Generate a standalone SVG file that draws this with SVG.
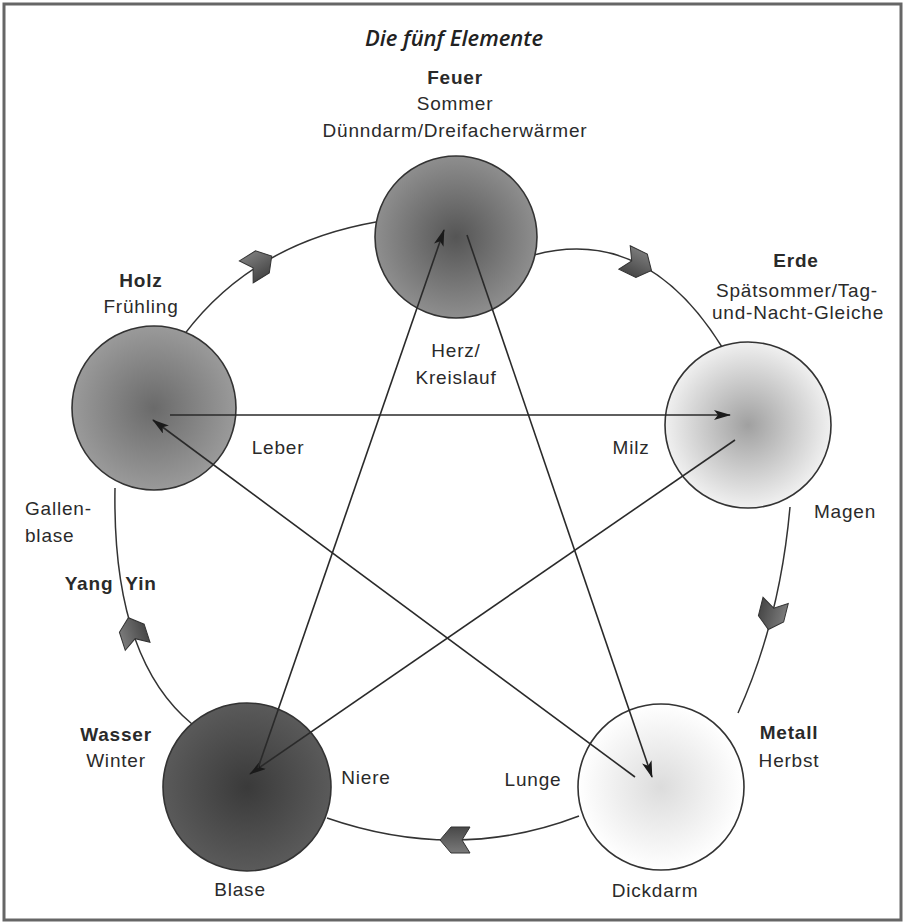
<svg xmlns="http://www.w3.org/2000/svg" width="906" height="924" viewBox="0 0 906 924">
<style>
.t{font-family:"Liberation Sans",Arial,sans-serif;font-size:19px;fill:#2a2a2a;letter-spacing:0.8px}
.b{font-weight:bold}
.m{text-anchor:middle}
.circ{stroke:#333;stroke-width:1.6}
.arc{fill:none;stroke:#333;stroke-width:1.5}
.ray{fill:none;stroke:#2a2a2a;stroke-width:1.6;marker-end:url(#ah)}
.chev{fill:url(#gchev);stroke:#333;stroke-width:1}
</style>
<defs>
<radialGradient id="gfeuer" cx="0.5" cy="0.5" r="0.5"><stop offset="0" stop-color="#555"/><stop offset="1" stop-color="#8e8e8e"/></radialGradient>
<radialGradient id="gholz" cx="0.5" cy="0.5" r="0.5"><stop offset="0" stop-color="#6a6a6a"/><stop offset="1" stop-color="#9a9a9a"/></radialGradient>
<radialGradient id="gerde" cx="0.5" cy="0.5" r="0.5"><stop offset="0" stop-color="#a0a0a0"/><stop offset="1" stop-color="#f0f0f0"/></radialGradient>
<radialGradient id="gmetall" cx="0.5" cy="0.5" r="0.5"><stop offset="0" stop-color="#dcdcdc"/><stop offset="1" stop-color="#ffffff"/></radialGradient>
<radialGradient id="gwasser" cx="0.5" cy="0.5" r="0.5"><stop offset="0" stop-color="#3a3a3a"/><stop offset="1" stop-color="#5a5a5a"/></radialGradient>
<linearGradient id="gchev" x1="0" y1="0" x2="0" y2="1"><stop offset="0" stop-color="#7a7a7a"/><stop offset="1" stop-color="#484848"/></linearGradient>
<marker id="ah" markerUnits="userSpaceOnUse" markerWidth="18" markerHeight="12" refX="16" refY="5" orient="auto"><path d="M0,0 L17,5 L0,10 L4,5 Z" fill="#1a1a1a"/></marker>
<path id="chv" d="M -15,-13 L 4,-13 L 15,0 L 4,13 L -15,13 L -7,0 Z"/>
</defs>
<rect x="4" y="4" width="897" height="916" fill="#fff" stroke="#666" stroke-width="3"/>
<text x="454" y="46" class="m" style="font-family:'Open Sans',sans-serif;font-style:italic;font-weight:600;font-size:22px;fill:#222">Die fünf Elemente</text>

<g id="connectors">
<path class="arc" d="M 176,346 Q 245,245 376,222"/>
<path class="arc" d="M 534,255 Q 646,225 722,347"/>
<path class="arc" d="M 790,507 Q 780,620 738,713"/>
<path class="arc" d="M 579,816 Q 457,863 327,818"/>
<path class="arc" d="M 192,724 Q 112,658 115,488"/>
</g>

<g id="feuer"><circle class="circ" cx="456" cy="237" r="81" fill="url(#gfeuer)"/>
<text class="t b m" x="455" y="84">Feuer</text>
<text class="t m" x="455" y="110">Sommer</text>
<text class="t m" x="455" y="137">Dünndarm/Dreifacherwärmer</text>
<text class="t m" x="456" y="357">Herz/</text>
<text class="t m" x="456" y="384">Kreislauf</text></g>

<g id="erde"><circle class="circ" cx="748" cy="425" r="83" fill="url(#gerde)"/>
<text class="t b m" x="796" y="267">Erde</text>
<text class="t m" x="797" y="297">Spätsommer/Tag-</text>
<text class="t m" x="798" y="319">und-Nacht-Gleiche</text>
<text class="t m" x="631" y="454">Milz</text>
<text class="t m" x="845" y="518">Magen</text></g>

<g id="metall"><circle class="circ" cx="661" cy="787" r="83" fill="url(#gmetall)"/>
<text class="t b m" x="789" y="739">Metall</text>
<text class="t m" x="789" y="767">Herbst</text>
<text class="t m" x="533" y="786">Lunge</text>
<text class="t m" x="655" y="897">Dickdarm</text></g>

<g id="wasser"><circle class="circ" cx="247" cy="787" r="84" fill="url(#gwasser)"/>
<text class="t b m" x="116" y="741">Wasser</text>
<text class="t m" x="116" y="767">Winter</text>
<text class="t m" x="366" y="784">Niere</text>
<text class="t m" x="240" y="896">Blase</text></g>

<g id="holz"><circle class="circ" cx="154" cy="408" r="82" fill="url(#gholz)"/>
<text class="t b m" x="141" y="287">Holz</text>
<text class="t m" x="141" y="313">Frühling</text>
<text class="t m" x="278" y="454">Leber</text>
<text class="t" x="25" y="515">Gallen-</text>
<text class="t" x="25" y="542">blase</text>
<text class="t b m" x="89" y="590">Yang</text>
<text class="t b m" x="141" y="590">Yin</text></g>

<g id="rays">
<path class="ray" d="M 170,415 L 730,415"/>
<path class="ray" d="M 735,440 L 250,774"/>
<path class="ray" d="M 258,768 L 444,230"/>
<path class="ray" d="M 467,235 L 652,777"/>
<path class="ray" d="M 635,777 L 153,420"/>
</g>

<g id="chevrons">
<use href="#chv" class="chev" transform="translate(259,264) rotate(-32)"/>
<use href="#chv" class="chev" transform="translate(638,264) rotate(26)"/>
<use href="#chv" class="chev" transform="translate(772,615) rotate(104)"/>
<use href="#chv" class="chev" transform="translate(455,840) rotate(180)"/>
<use href="#chv" class="chev" transform="translate(133,632) rotate(-108)"/>
</g>
</svg>
